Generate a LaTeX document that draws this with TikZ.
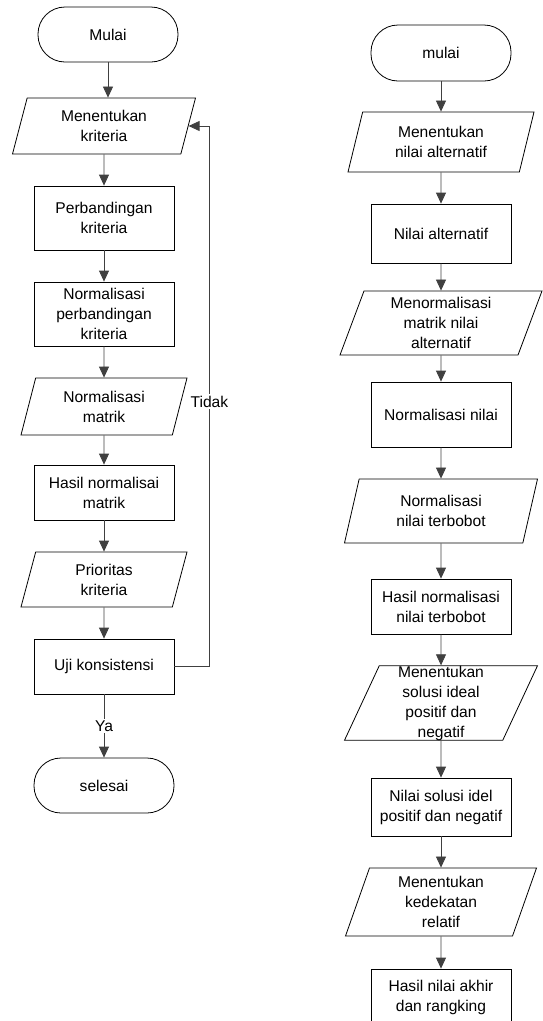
\documentclass[tikz,border=0pt]{standalone}
\usepackage{fontspec}
\setmainfont{Liberation Sans}
\usetikzlibrary{shapes.geometric,arrows.meta}
\colorlet{lineGray}{black!75}

\begin{document}
\begin{tikzpicture}[
    x=1pt, y=-1pt,
    line width=.8pt,
    font=\fontsize{15.6}{20}\selectfont,
    arr/.style={draw=lineGray, -{Triangle[width=10pt, length=11pt]}},
    term/.style={
        rectangle,
        rounded corners=27pt,
        minimum width=140pt,
        minimum height=55pt,
        draw=black,
        align=center,
      },
    box/.style={
        rectangle,
        minimum width=140pt,
        draw=black,
        align=center,
      },
    io/.style={
        trapezium,
        trapezium left angle=65,
        trapezium right angle=115,
        trapezium stretches body,
        inner sep=0pt,
        draw=black,
        align=center,
      },
    lbl/.style={midway, fill=white, inner sep=2pt},
  ]
  \useasboundingbox (0,0) rectangle (542,1021);

  % kriteria
  \node[term] (st1) at (108,34.5) {Mulai};
  \node[io, minimum width=183pt, minimum height=56pt] (in1) at (104,126) {Menentukan\\kriteria};
  \node[box, minimum height=64pt] (pb1) at (104,218) {Perbandingan\\kriteria};
  \node[box, minimum height=64pt] (np1) at (104,314) {Normalisasi\\perbandingan\\kriteria};
  \node[io, minimum width=166pt, minimum height=57pt] (nm1) at (104,406.5) {Normalisasi\\matrik};
  \node[box, minimum height=55pt] (hn1) at (104,492.5) {Hasil normalisai\\matrik};
  \node[io, minimum width=166pt, minimum height=55pt] (pk1) at (104,579.5) {Prioritas\\kriteria};
  \node[box, minimum height=55pt] (uji1) at (104,666.5) {Uji konsistensi};
  \node[term] (end1) at (104,785.5) {selesai};

  % alternatif
  \node[term, minimum height=56pt] (st2) at (441,53) {mulai};
  \node[io, minimum width=186pt, minimum height=60pt] (in2) at (441,142) {Menentukan\\nilai alternatif};
  \node[box, minimum height=59pt] (na2) at (441,233.5) {Nilai alternatif};
  \node[io, minimum width=202pt, minimum height=64pt] (mn2) at (441,323) {Menormalisasi\\matrik nilai\\alternatif};
  \node[box, minimum height=65pt] (nn2) at (441,414.5) {Normalisasi nilai};
  \node[io, minimum width=193pt, minimum height=64pt] (nt2) at (441,511) {Normalisasi\\nilai terbobot};
  \node[box, minimum height=55pt] (hn2) at (441,606.5) {Hasil normalisasi\\nilai terbobot};
  \node[io, minimum width=193pt, minimum height=74pt] (ms2) at (441,703) {Menentukan\\solusi ideal\\positif dan\\negatif};
  \node[box, minimum height=58pt] (ns2) at (441,807) {Nilai solusi idel\\positif dan negatif};
  \node[io, minimum width=191pt, minimum height=68pt] (mk2) at (441,902) {Menentukan\\kedekatan\\relatif};
  \node[box, minimum height=56pt] (ha2) at (441,997) {Hasil nilai akhir\\dan rangking};

  \draw[arr] (st1) -- (st1 |- in1.north);
  \draw[arr] (in1) -- (pb1);
  \draw[arr] (pb1) -- (np1);
  \draw[arr] (np1) -- (nm1);
  \draw[arr] (nm1) -- (hn1);
  \draw[arr] (hn1) -- (pk1);
  \draw[arr] (pk1) -- (uji1);
  \draw[arr] (uji1) -- (end1) node[lbl] {Ya};
  \draw[arr] (uji1.east) -- ++(35,0) coordinate (bk)
    -- (bk |- in1.east) node[lbl, pos=.49] {Tidak} -- (in1.east);

  \draw[arr] (st2) -- (in2);
  \draw[arr] (in2) -- (na2);
  \draw[arr] (na2) -- (mn2);
  \draw[arr] (mn2) -- (nn2);
  \draw[arr] (nn2) -- (nt2);
  \draw[arr] (nt2) -- (hn2);
  \draw[arr] (hn2) -- (ms2);
  \draw[arr] (ms2) -- (ns2);
  \draw[arr] (ns2) -- (mk2);
  \draw[arr] (mk2) -- (ha2);
\end{tikzpicture}
\end{document}
